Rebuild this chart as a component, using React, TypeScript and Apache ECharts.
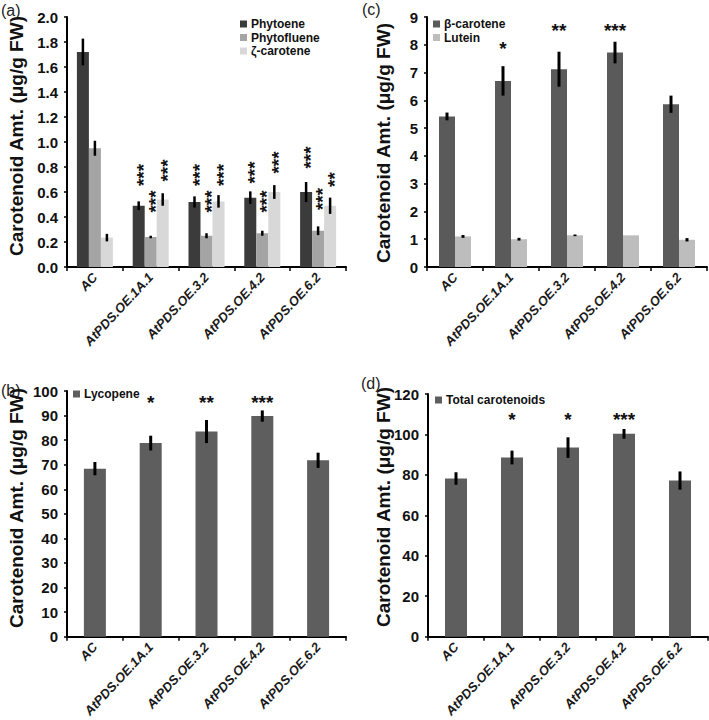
import React, { useEffect, useRef } from 'react';
import * as echarts from 'echarts';

const FONT = 'Liberation Sans, Arial, Helvetica, sans-serif';

const categories = ['AC', 'AtPDS.OE.1A.1', 'AtPDS.OE.3.2', 'AtPDS.OE.4.2', 'AtPDS.OE.6.2'];

// Panel (a)
const phytoene = [1.72, 0.49, 0.52, 0.555, 0.6];
const phytoeneErr = [0.107, 0.035, 0.045, 0.05, 0.08];
const phytofluene = [0.95, 0.24, 0.25, 0.27, 0.29];
const phytoflueneErr = [0.06, 0.01, 0.02, 0.02, 0.035];
const zetaCarotene = [0.235, 0.54, 0.525, 0.6, 0.49];
const zetaCaroteneErr = [0.03, 0.05, 0.05, 0.055, 0.065];
const phytoeneSig = ['', '***', '***', '***', '***'];
const phytoflueneSig = ['', '***', '***', '***', '***'];
const zetaSig = ['', '***', '***', '***', '**'];
const phytoeneSigAt = [null, 0.736, 0.736, 0.756, 0.876];
const phytoflueneSigAt = [null, 0.524, 0.524, 0.524, 0.544];
const zetaSigAt = [null, 0.772, 0.736, 0.836, 0.7];

// Panel (c)
const betaCarotene = [5.42, 6.7, 7.12, 7.72, 5.86];
const betaCaroteneErr = [0.14, 0.53, 0.63, 0.39, 0.31];
const lutein = [1.1, 1.0, 1.14, 1.14, 0.98];
const luteinErr = [0.05, 0.05, 0.03, 0, 0.06];
const betaSig = ['', '*', '**', '***', ''];
const betaSigAt = [null, 8.04, 8.69, 8.69, null];

// Panel (b)
const lycopene = [68.4, 78.8, 83.5, 89.8, 71.8];
const lycopeneErr = [2.7, 3.0, 4.7, 2.3, 3.1];
const lycopeneSig = ['', '*', '**', '***', ''];
const lycopeneSigAt = [null, 97.3, 97.3, 97.3, null];

// Panel (d)
const totalCarotenoids = [78.2, 88.6, 93.5, 100.3, 77.2];
const totalCarotenoidsErr = [3.1, 3.4, 5.1, 2.4, 4.5];
const totalSig = ['', '*', '*', '***', ''];
const totalSigAt = [null, 109.4, 109.4, 109.4, null];

function barSeries(name: string, gi: number, data: number[], color: string, barWidth: number) {
  return {
    type: 'bar',
    name,
    xAxisIndex: gi,
    yAxisIndex: gi,
    data,
    barWidth,
    barGap: '0%',
    itemStyle: { color },
    silent: true,
    z: 2,
  };
}

function errSeries(name: string, gi: number, values: number[], errs: number[], offset: number, lw: number) {
  return {
    type: 'custom',
    name,
    xAxisIndex: gi,
    yAxisIndex: gi,
    silent: true,
    z: 5,
    itemStyle: { color: '#000' },
    data: values.map((v, i) => [i, v - errs[i], v + errs[i]]),
    renderItem: (params: any, api: any) => {
      const i = api.value(0);
      const lo = api.coord([i, api.value(1)]);
      const hi = api.coord([i, api.value(2)]);
      const x = lo[0] + offset;
      return {
        type: 'line',
        shape: { x1: x, y1: lo[1], x2: x, y2: hi[1] },
        style: { stroke: '#000', lineWidth: lw },
      };
    },
  };
}

function starSeries(name: string, gi: number, sig: string[], at: (number | null)[], offset: number, vertical: boolean) {
  const data: number[][] = [];
  const texts: string[] = [];
  sig.forEach((s, i) => {
    const v = at[i];
    if (s && v != null) {
      data.push([i, v]);
      texts.push(s);
    }
  });
  return {
    type: 'custom',
    name,
    xAxisIndex: gi,
    yAxisIndex: gi,
    silent: true,
    z: 6,
    itemStyle: { color: '#111' },
    data,
    renderItem: (params: any, api: any) => {
      const p = api.coord([api.value(0), api.value(1)]);
      return {
        type: 'text',
        x: p[0] + offset + (vertical ? 4.5 : 0),
        y: p[1] + (vertical ? 0 : 4.5),
        rotation: vertical ? Math.PI / 2 : 0,
        style: {
          text: texts[params.dataIndex],
          fill: '#111',
          fontSize: 19,
          fontWeight: 'bold',
          fontFamily: FONT,
          align: 'center',
          verticalAlign: 'middle',
        },
      };
    },
  };
}

function xAxisCfg(gi: number) {
  return {
    type: 'category',
    gridIndex: gi,
    data: categories,
    axisLine: { lineStyle: { color: '#000', width: 2 } },
    axisTick: { show: true, length: 4, lineStyle: { color: '#000', width: 1.5 } },
    axisLabel: {
      interval: 0,
      rotate: 47,
      margin: 8,
      fontSize: 13,
      fontWeight: 'bold',
      fontStyle: 'italic',
      fontFamily: FONT,
      color: '#1a1a1a',
    },
    splitLine: { show: false },
  };
}

function yAxisCfg(gi: number, max: number, interval: number, decimals: number) {
  return {
    type: 'value',
    gridIndex: gi,
    min: 0,
    max,
    interval,
    axisLine: { show: true, lineStyle: { color: '#000', width: 2 } },
    axisTick: { show: true, length: 3, lineStyle: { color: '#000', width: 1.5 } },
    axisLabel: {
      margin: 9,
      fontSize: 15,
      fontWeight: 'bold',
      fontFamily: FONT,
      color: '#111',
      formatter: (v: number) => v.toFixed(decimals),
    },
    splitLine: { show: false },
  };
}

function legendCfg(names: string[], left: number, top: number) {
  return {
    data: names,
    left,
    top,
    orient: 'vertical',
    icon: 'rect',
    itemWidth: 7,
    itemHeight: 7,
    itemGap: 1.5,
    padding: 0,
    selectedMode: false,
    textStyle: {
      fontSize: 12,
      lineHeight: 12,
      fontWeight: 'bold',
      fontFamily: FONT,
      color: '#111',
      padding: [0, 0, 0, -1],
    },
  };
}

const yName = 'Carotenoid Amt. (\u03bcg/g FW)';

function nameText(x: number, y: number) {
  return {
    type: 'text',
    x,
    y,
    rotation: Math.PI / 2,
    silent: true,
    style: {
      text: yName,
      fontSize: 19,
      fontWeight: 'bold',
      fontFamily: FONT,
      fill: '#111',
      align: 'center',
      verticalAlign: 'middle',
    },
  };
}

function panelLabel(text: string, x: number, y: number) {
  return {
    type: 'text',
    x,
    y,
    silent: true,
    style: {
      text,
      fontSize: 16,
      fontFamily: FONT,
      fill: '#222',
      align: 'left',
      verticalAlign: 'middle',
    },
  };
}

export default function App() {
  const ref = useRef<HTMLDivElement>(null);
  useEffect(() => {
    if (!ref.current) return;
    const chart = echarts.init(ref.current, undefined, { renderer: 'svg' });
    const option: any = {
      animation: false,
      backgroundColor: '#ffffff',
      grid: [
        { left: 67, top: 17, width: 279, height: 250 },
        { left: 427, top: 17, width: 280, height: 250 },
        { left: 67, top: 391, width: 279, height: 248.5 },
        { left: 428, top: 394, width: 280, height: 245.5 },
      ],
      xAxis: [xAxisCfg(0), xAxisCfg(1), xAxisCfg(2), xAxisCfg(3)],
      yAxis: [
        yAxisCfg(0, 2, 0.2, 1),
        yAxisCfg(1, 9, 1, 0),
        yAxisCfg(2, 100, 10, 0),
        yAxisCfg(3, 120, 20, 0),
      ],
      legend: [
        legendCfg(['Phytoene', 'Phytofluene', '\u03b6-carotene'], 240, 18),
        legendCfg(['\u03b2-carotene', 'Lutein'], 433, 18),
        legendCfg(['Lycopene'], 73, 388),
        legendCfg(['Total carotenoids'], 435, 394),
      ],
      graphic: [
        panelLabel('(a)', 1, 10),
        panelLabel('(c)', 362, 9),
        panelLabel('(b)', 1, 390),
        panelLabel('(d)', 361, 383),
        nameText(16, 136),
        nameText(383, 143),
        nameText(16, 508),
        nameText(383, 507),
      ],
      series: [
        barSeries('Phytoene', 0, phytoene, '#3b3b3b', 12),
        barSeries('Phytofluene', 0, phytofluene, '#a4a4a4', 12),
        barSeries('\u03b6-carotene', 0, zetaCarotene, '#d8d8d8', 12),
        errSeries('errPhytoene', 0, phytoene, phytoeneErr, -12, 2.5),
        errSeries('errPhytofluene', 0, phytofluene, phytoflueneErr, 0, 2.5),
        errSeries('errZeta', 0, zetaCarotene, zetaCaroteneErr, 12, 2.5),
        starSeries('sigPhytoene', 0, phytoeneSig, phytoeneSigAt, -12, true),
        starSeries('sigPhytofluene', 0, phytoflueneSig, phytoflueneSigAt, 0, true),
        starSeries('sigZeta', 0, zetaSig, zetaSigAt, 12, true),

        barSeries('\u03b2-carotene', 1, betaCarotene, '#5a5a5a', 16),
        barSeries('Lutein', 1, lutein, '#bdbdbd', 16),
        errSeries('errBeta', 1, betaCarotene, betaCaroteneErr, -8, 3),
        errSeries('errLutein', 1, lutein, luteinErr, 8, 3),
        starSeries('sigBeta', 1, betaSig, betaSigAt, -8, false),

        barSeries('Lycopene', 2, lycopene, '#5e5e5e', 22),
        errSeries('errLycopene', 2, lycopene, lycopeneErr, 0, 3),
        starSeries('sigLycopene', 2, lycopeneSig, lycopeneSigAt, 0, false),

        barSeries('Total carotenoids', 3, totalCarotenoids, '#5e5e5e', 22),
        errSeries('errTotal', 3, totalCarotenoids, totalCarotenoidsErr, 0, 3),
        starSeries('sigTotal', 3, totalSig, totalSigAt, 0, false),
      ],
    };
    chart.setOption(option);
    return () => {
      chart.dispose();
    };
  }, []);
  return (
    <div
      ref={ref}
      style={{ position: 'absolute', left: 0, top: 0, width: 709, height: 720, background: '#fff' }}
    />
  );
}
